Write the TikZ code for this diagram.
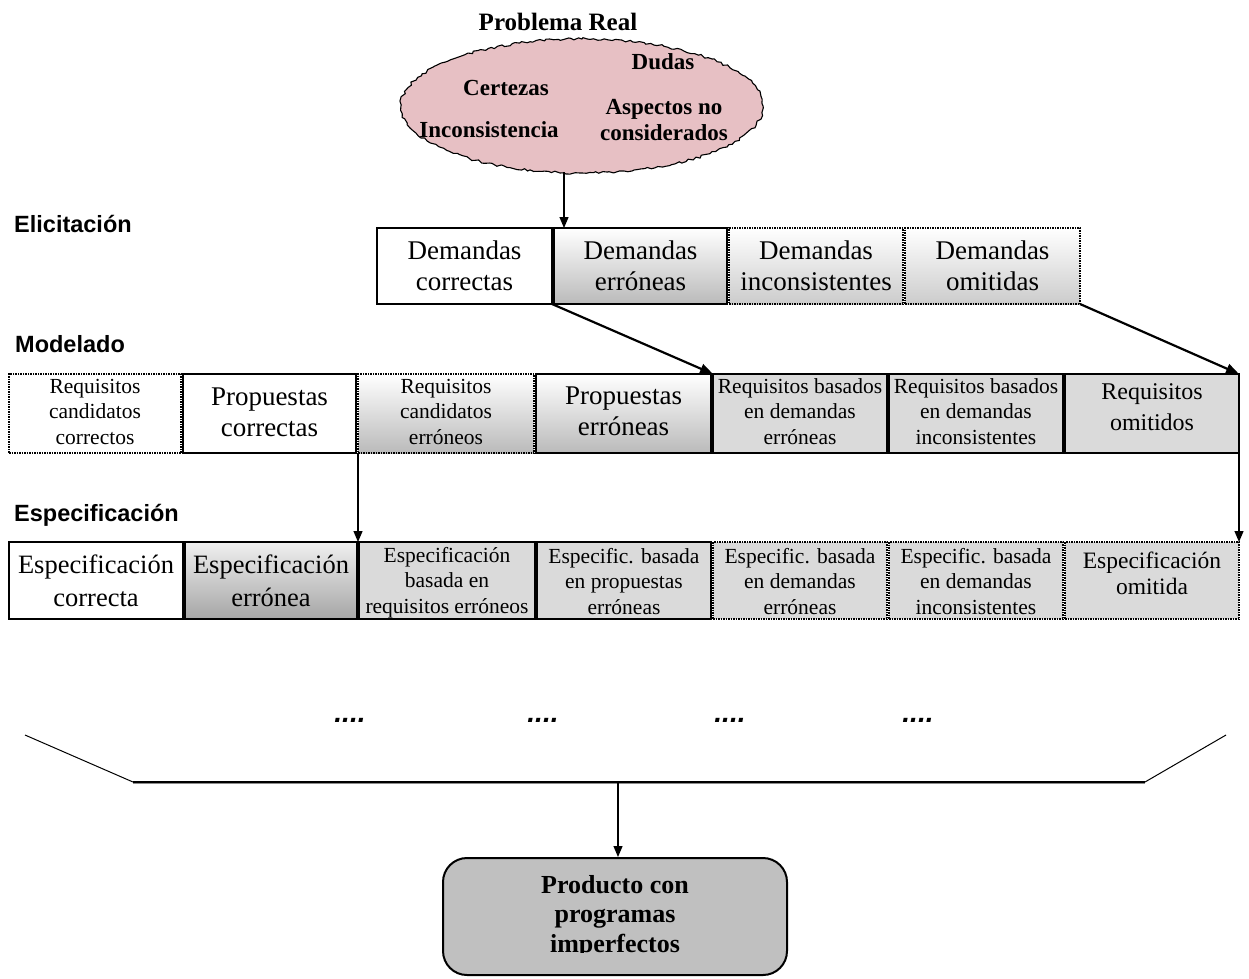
\documentclass[tikz,border=0pt]{standalone}
\usepackage{fontspec}
\setmainfont{Liberation Serif}
\newfontfamily\lsans{Liberation Sans}
\usetikzlibrary{arrows.meta,decorations.pathmorphing,shapes.geometric}

\newcommand\fsz[2]{\fontsize{#1}{#2}\selectfont}

\definecolor{cloudpink}{RGB}{231,192,196}
\definecolor{cellgray}{RGB}{218,218,218}
\definecolor{prodgray}{RGB}{192,192,192}

\tikzset{
  box/.style={draw=black, line width=1.5pt, inner sep=0pt, outer sep=0pt},
  dotbox/.style={box, densely dotted},
  gradA/.style={top color=white, bottom color=black!27},
  gradB/.style={top color=white, bottom color=black!20},
  gradC/.style={top color=black!6, bottom color=black!35},
  flat/.style={fill=cellgray},
  rowE/.style={minimum height=76pt},
  rowM/.style={minimum height=79pt},
  rowS/.style={minimum height=77pt},
  txt/.style={align=center, inner sep=0pt},
  fBig/.style={font=\fsz{27}{31}},
  fMid/.style={font=\fsz{24}{31}},
  fSpec/.style={font=\fsz{26.5}{33}},
  fSpecO/.style={font=\fsz{23.5}{26.5}},
  fSmall/.style={font=\fsz{21.5}{25.5}},
  rowlabel/.style={font=\lsans\bfseries\fsz{23.5}{26}, anchor=base west, inner sep=0pt},
  ctext/.style={font=\bfseries\fsz{23}{26}, align=center, inner sep=0pt},
  dots/.style={font=\lsans\bfseries\itshape\fsz{28}{30}, anchor=base, inner sep=0pt},
  arr/.style={line width=1.2pt, -{Triangle[length=11pt,width=9pt]}},
  arrthick/.style={line width=2.2pt, -{Triangle[length=13pt,width=10pt]}},
}

\begin{document}
\begin{tikzpicture}[x=1pt,y=-1pt]
\useasboundingbox (0,0) rectangle (1249,978);

% ---- problem cloud ----
\node[font=\bfseries\fsz{25}{29}, inner sep=0pt] (title) at (558,22) {Problema Real};
\node[ellipse, minimum width=362pt, minimum height=134pt, fill=cloudpink,
      draw=black, line width=1.1pt, decorate,
      decoration={random steps, segment length=3.5pt, amplitude=1.3pt}] (cloud) at (582,106) {};
\node[ctext] (dudas) at (663,62) {Dudas};
\node[ctext] (cert) at (506,88) {Certezas};
\node[ctext] (incons) at (489,130) {Inconsistencia};
\node[ctext] (aspect) at (664,120) {Aspectos no\\considerados};
\coordinate (cb) at (564,172);

% ---- row labels ----
\node[rowlabel] (lelic) at (14,232) {Elicitación};
\node[rowlabel] (lmod) at (15,352) {Modelado};
\node[rowlabel] (lspec) at (14,521) {Especificación};

% ---- elicitation row ----
\node[box, rowE, minimum width=175pt, fill=white] (e1) at (464.5,266) {};
\node[box, rowE, minimum width=173pt, gradA] (e2) at (640.5,266) {};
\node[dotbox, rowE, minimum width=174pt, gradB] (e3) at (816,266) {};
\node[dotbox, rowE, minimum width=175pt, gradB] (e4) at (992.5,266) {};
\node[txt, fBig] at (e1) {Demandas\\correctas};
\node[txt, fBig] at (e2) {Demandas\\erróneas};
\node[txt, fBig] at (e3) {Demandas\\inconsistentes};
\node[txt, fBig] at (e4) {Demandas\\omitidas};

% ---- modelling row ----
\node[dotbox, rowM, minimum width=172pt, fill=white] (m1) at (95,413.5) {};
\node[box, rowM, minimum width=173pt, fill=white] (m2) at (269.5,413.5) {};
\node[dotbox, rowM, minimum width=176pt, gradA] (m3) at (446,413.5) {};
\node[box, rowM, minimum width=175pt, gradA] (m4) at (623.5,413.5) {};
\node[box, rowM, minimum width=174pt, flat] (m5) at (800,413.5) {};
\node[box, rowM, minimum width=174pt, flat] (m6) at (976,413.5) {};
\node[box, rowM, minimum width=174pt, flat] (m7) at (1152,413.5) {};
\node[txt, fSmall] at ([yshift=2pt]m1.center) {Requisitos\\candidatos\\correctos};
\node[txt, fBig] at ([yshift=1pt]m2.center) {Propuestas\\correctas};
\node[txt, fSmall] at ([yshift=2pt]m3.center) {Requisitos\\candidatos\\erróneos};
\node[txt, fBig] at ([yshift=2pt]m4.center) {Propuestas\\erróneas};
\node[txt, fSmall] at ([yshift=2pt]m5.center) {Requisitos basados\\en demandas\\erróneas};
\node[txt, fSmall] at ([yshift=2pt]m6.center) {Requisitos basados\\en demandas\\inconsistentes};
\node[txt, fMid] at ([yshift=6pt]m7.center) {Requisitos\\omitidos};

% ---- specification row ----
\node[box, rowS, minimum width=174pt, fill=white] (s1) at (96,580.5) {};
\node[box, rowS, minimum width=172pt, gradC] (s2) at (271,580.5) {};
\node[box, rowS, minimum width=176pt, flat] (s3) at (447,580.5) {};
\node[box, rowS, minimum width=174pt, flat] (s4) at (624,580.5) {};
\node[dotbox, rowS, minimum width=174pt, flat] (s5) at (800,580.5) {};
\node[dotbox, rowS, minimum width=174pt, flat] (s6) at (976,580.5) {};
\node[dotbox, rowS, minimum width=174pt, flat] (s7) at (1152,580.5) {};
\node[txt, fSpec] at (s1) {Especificación\\correcta};
\node[txt, fSpec] at (s2) {Especificación\\errónea};
\node[txt, fSmall] at ([yshift=-2pt]s3.center) {Especificación\\basada en\\requisitos erróneos};
\node[txt, fSmall] at ([yshift=-1pt]s4.center) {Especific. basada\\en propuestas\\erróneas};
\node[txt, fSmall] at ([yshift=-1pt]s5.center) {Especific. basada\\en demandas\\erróneas};
\node[txt, fSmall] at ([yshift=-1pt]s6.center) {Especific. basada\\en demandas\\inconsistentes};
\node[txt, fSpecO] at ([yshift=7pt]s7.center) {Especificación\\omitida};

% ---- connectors ----
\draw[arr] (cb) -- (cb |- e2.north);
\draw[arrthick] (e1.south east) -- (m5.north west);
\draw[arrthick] (e4.south east) -- (m7.north east);
\draw[arr] (m3.south west) -- (m3.south west |- s3.north);
\draw[arr] (m7.south east) -- (m7.south east |- s7.north);

% ---- continuation dots ----
\node[dots] (d1) at (350,722) {....};
\node[dots] (d2) at (543,722) {....};
\node[dots] (d3) at (730,722) {....};
\node[dots] (d4) at (918,722) {....};

% ---- collecting bracket ----
\coordinate (bl) at (25,735);
\coordinate (bc1) at (133,782);
\coordinate (bc2) at (1145,782);
\coordinate (brr) at (1226,735);
\coordinate (bm) at (618,782);
\draw[line width=1pt] (bl) -- (bc1);
\draw[line width=1pt] (bc2) -- (brr);
\draw[line width=2.4pt, black!45] ([yshift=-0.8pt]bc1) -- ([yshift=-0.8pt]bc2);
\draw[line width=1.1pt] (bc1) -- (bc2);

% ---- final product ----
\node[draw=black, line width=2pt, rounded corners=24pt, fill=prodgray,
      minimum width=344pt, minimum height=117pt] (prod) at (615,916.5) {};
\begin{scope}
  \clip (443,858) rectangle (787,952);
  \node[font=\bfseries\fsz{26}{29.5}, align=center, anchor=north, inner sep=0pt]
    (prodtext) at (615,875) {Producto con\\programas\\imperfectos};
\end{scope}
\draw[arr] (bm) -- (bm |- prod.north);

\end{tikzpicture}
\end{document}
